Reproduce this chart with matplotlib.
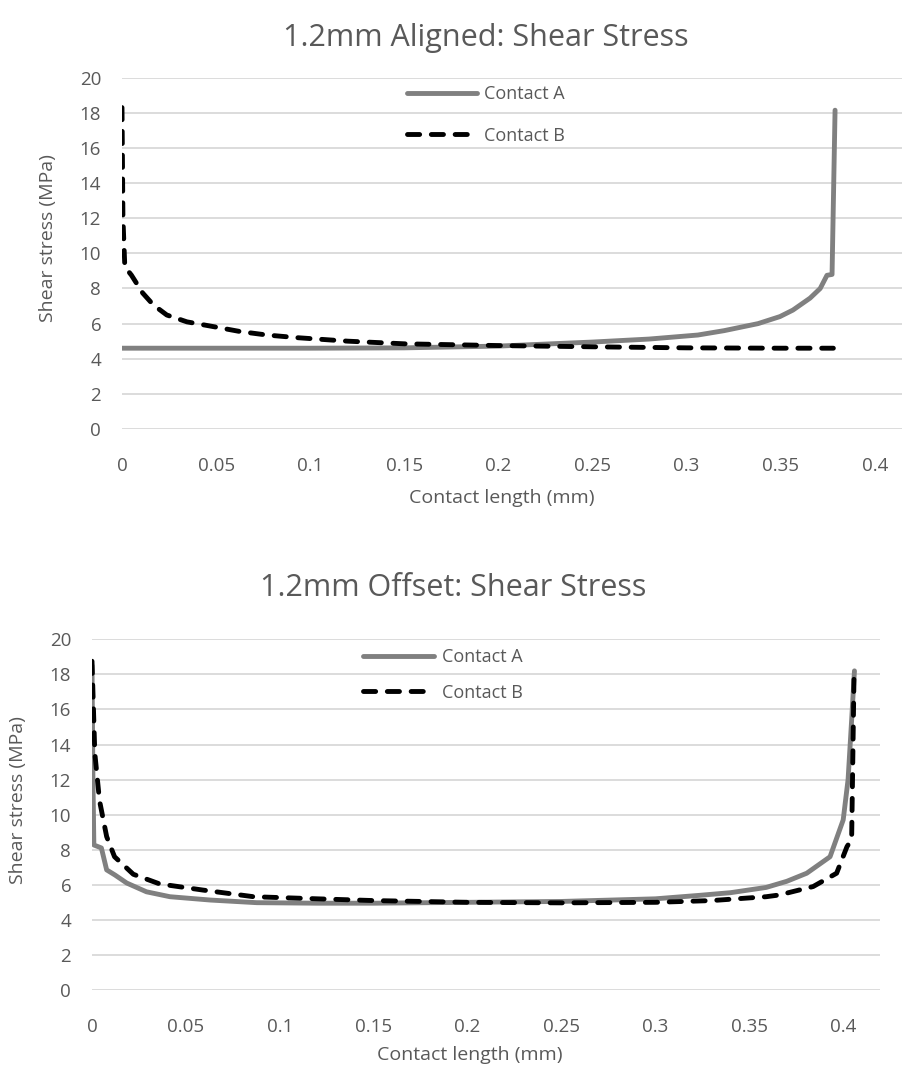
import matplotlib
matplotlib.use("Agg")
import matplotlib.pyplot as plt

# ---------------- data ----------------
aligned_a_x = [0, 0.05, 0.1, 0.15, 0.2, 0.25, 0.28, 0.306, 0.32, 0.338, 0.3496,
               0.3565, 0.3656, 0.371, 0.3746, 0.3773, 0.3789]
aligned_a_y = [4.6, 4.6, 4.6, 4.62, 4.72, 4.95, 5.12, 5.35, 5.6, 6.0, 6.4,
               6.77, 7.45, 8.0, 8.75, 8.8, 18.15]

aligned_b_x = [0, 0.0005, 0.0015, 0.005, 0.011, 0.0167, 0.0238, 0.0345, 0.0485,
               0.0627, 0.077, 0.093, 0.12, 0.15, 0.2, 0.25, 0.3, 0.35, 0.378]
aligned_b_y = [18.3, 12.0, 9.23, 8.76, 7.74, 7.06, 6.49, 6.1, 5.83,
               5.55, 5.35, 5.2, 5.0, 4.85, 4.75, 4.68, 4.62, 4.6, 4.6]

offset_a_x = [0, 0.0005, 0.001, 0.005, 0.0078, 0.0122, 0.0185, 0.029, 0.0415, 0.063,
              0.0877, 0.12, 0.15, 0.2, 0.25, 0.3, 0.3237, 0.34, 0.359, 0.37, 0.3806,
              0.393, 0.400, 0.4026, 0.4045, 0.406]
offset_a_y = [18.5, 12.0, 8.27, 8.1, 6.85, 6.56, 6.1, 5.6, 5.32, 5.13,
              4.98, 4.95, 4.95, 5.0, 5.05, 5.2, 5.4, 5.55, 5.85, 6.2, 6.66,
              7.6, 9.7, 12.0, 15.4, 18.2]

offset_b_x = [0, 0.0015, 0.004, 0.0078, 0.012, 0.022, 0.036, 0.059, 0.086, 0.12,
              0.15, 0.2, 0.25, 0.3, 0.33, 0.359, 0.366, 0.384, 0.3965, 0.402,
              0.4045, 0.4058]
offset_b_y = [18.75, 13.5, 10.8, 8.75, 7.6, 6.6, 6.05, 5.7, 5.32, 5.2,
              5.1, 5.0, 4.97, 5.0, 5.1, 5.32, 5.42, 5.9, 6.66, 8.17,
              8.6, 18.2]

x_ticks = [0, 0.05, 0.1, 0.15, 0.2, 0.25, 0.3, 0.35, 0.4]
x_tick_labels = ["0", "0.05", "0.1", "0.15", "0.2", "0.25", "0.3", "0.35", "0.4"]
y_ticks = [0, 2, 4, 6, 8, 10, 12, 14, 16, 18, 20]
series_labels = ["Contact A", "Contact B"]
titles = ["1.2mm Aligned: Shear Stress", "1.2mm Offset: Shear Stress"]
x_label = "Contact length (mm)"
y_label = "Shear stress (MPa)"

# ---------------- style ----------------
plt.rcParams['font.family'] = ['Open Sans', 'DejaVu Sans']
TXT = "#595959"
GRAY = "#808080"
GRID = "#d9d9d9"
W, H = 903, 1076

fig = plt.figure(figsize=(W / 100, H / 100), dpi=100)


def px_axes(left, right, top, bottom):
    return fig.add_axes([left / W, 1 - bottom / H, (right - left) / W, (bottom - top) / H])


def style(ax, xmax, box, xlab_c, ylab_c):
    left, right, top, bottom = box
    wpx, hpx = right - left, bottom - top
    ax.set_xlim(0, xmax)
    ax.set_ylim(0, 20)
    ax.set_xticks(x_ticks)
    ax.set_xticklabels(x_tick_labels)
    ax.set_yticks(y_ticks)
    for s in ax.spines.values():
        s.set_visible(False)
    ax.tick_params(length=0, labelsize=13.5, colors=TXT)
    ax.tick_params(axis='x', pad=20)
    ax.tick_params(axis='y', pad=15)
    ax.grid(axis='y', color=GRID, linewidth=1.3)
    ax.set_axisbelow(True)
    ax.set_xlabel(x_label, fontsize=14, color=TXT)
    ax.set_ylabel(y_label, fontsize=14, color=TXT)
    ax.xaxis.label.set_verticalalignment('center')
    ax.yaxis.label.set_verticalalignment('center')
    ax.xaxis.set_label_coords((xlab_c[0] - left) / wpx, (bottom - xlab_c[1]) / hpx)
    ax.yaxis.set_label_coords((ylab_c[0] - left) / wpx, (bottom - ylab_c[1]) / hpx)


panels = [
    dict(box=(122, 903, 77.7, 429), xmax=0.415, ax_=aligned_a_x, ay_=aligned_a_y,
         bx_=aligned_b_x, by_=aligned_b_y, title=titles[0], title_xy=(486, 38),
         leg_px=(407, 115), hl=3.9, hp=0.35, ls=1.3, xlab=(502, 498), ylab=(48, 238)),
    dict(box=(92, 880, 639.3, 990), xmax=0.4196, ax_=offset_a_x, ay_=offset_a_y,
         bx_=offset_b_x, by_=offset_b_y, title=titles[1], title_xy=(453, 588),
         leg_px=(363, 675), hl=3.95, hp=0.42, ls=0.97, xlab=(470, 1055), ylab=(18, 800)),
]

for p in panels:
    ax = px_axes(*p['box'])
    style(ax, p['xmax'], p['box'], p['xlab'], p['ylab'])
    ax.plot(p['ax_'], p['ay_'], color=GRAY, linewidth=3.5, solid_capstyle='round',
            solid_joinstyle='round', label=series_labels[0], zorder=3)
    ax.plot(p['bx_'], p['by_'], color='black', linewidth=3.5, dashes=(2.5, 2.4),
            dash_capstyle='round', dash_joinstyle='round', label=series_labels[1], zorder=4)
    left, right, top, bottom = p['box']
    anchor = ((p['leg_px'][0] - left) / (right - left), (bottom - p['leg_px'][1]) / (bottom - top))
    leg = ax.legend(loc='center left', bbox_to_anchor=anchor, frameon=False, fontsize=13,
                    handlelength=p['hl'], handletextpad=p['hp'], labelspacing=p['ls'],
                    borderpad=0, borderaxespad=0)
    for t in leg.get_texts():
        t.set_color(TXT)
    fig.text(p['title_xy'][0] / W, 1 - p['title_xy'][1] / H, p['title'], ha='center',
             va='center', fontsize=22, color=TXT)

fig.savefig("out.png", dpi=100)
